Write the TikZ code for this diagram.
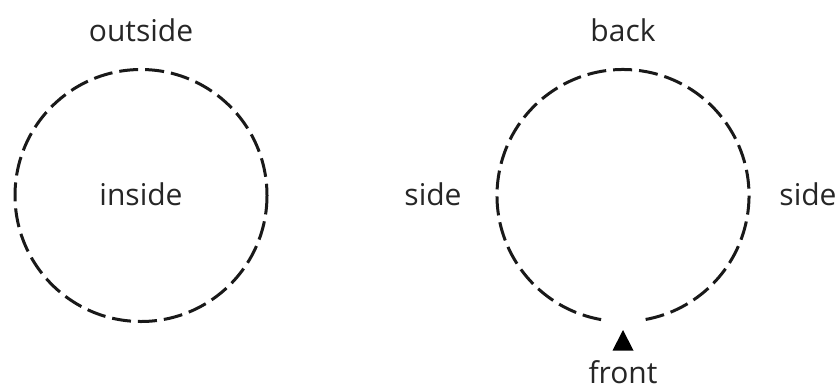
\documentclass[tikz,border=0pt]{standalone}
\usepackage{fontspec}
\setmainfont{Open Sans}
\begin{document}
\begin{tikzpicture}[x=1pt,y=-1pt,
  lbl/.style={text=black!85,font=\fontsize{30}{34}\selectfont,inner sep=0pt},
  ring/.style={draw=black!90,line width=3pt,dash pattern=on 19pt off 7pt},
  marker/.style={fill=black,draw=none}]
\useasboundingbox (0,0) rectangle (840,389);
\coordinate (cl) at (141,195.5);
\coordinate (cr) at (623,195.5);
\draw[ring] (cl) circle[radius=126];
\draw[ring] ([shift={(100:126)}]cr) arc[start angle=100,end angle=440,radius=126];
\node[lbl] (outside) at (141,30) {outside};
\node[lbl] (inside) at (141,194) {inside};
\node[lbl] (back) at (623,30) {back};
\node[lbl] (sideL) at (433,194) {side};
\node[lbl] (sideR) at (808,194) {side};
\node[lbl] (front) at (623,372) {front};
\fill[marker] (612.5,350.5) -- (633.5,350.5) -- (623,330) -- cycle;
\end{tikzpicture}
\end{document}
